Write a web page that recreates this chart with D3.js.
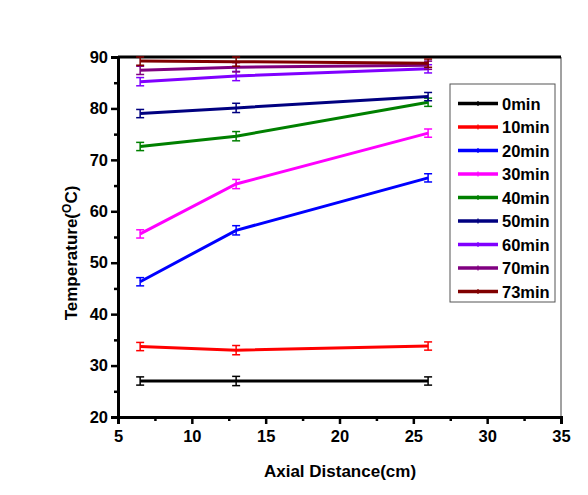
<!DOCTYPE html>
<html><head><meta charset="utf-8">
<script src="https://cdn.jsdelivr.net/npm/d3@7"></script>
<style>body{margin:0;background:#fff}svg{display:block}text{font-family:Arial,"Liberation Sans",sans-serif;font-weight:bold}</style>
</head><body><div id="c"></div>
<script>
const distances = [6.5, 13, 26];
const seriesNames = ["0min","10min","20min","30min","40min","50min","60min","70min","73min"];
const colors = ["#000000","#ff0000","#0000ff","#ff00ff","#008000","#000080","#8000ff","#800080","#800000"];
const t0 = [27.0, 27.0, 27.0];
const t10 = [33.7, 33.0, 33.8];
const t20 = [46.3, 56.3, 66.5];
const t30 = [55.6, 65.3, 75.2];
const t40 = [72.6, 74.6, 81.2];
const t50 = [79.0, 80.1, 82.3];
const t60 = [85.2, 86.3, 87.7];
const t70 = [87.4, 88.0, 88.4];
const t73 = [89.2, 89.1, 88.8];
const errors = [0.8, 0.9, 0.8];
const values = [t0,t10,t20,t30,t40,t50,t60,t70,t73];
const xTicks = [5,10,15,20,25,30,35];
const yTicks = [20,30,40,50,60,70,80,90];

const W=588,H=495;
const svg=d3.select("#c").append("svg").attr("width",W).attr("height",H);
const x=d3.scaleLinear().domain([5,35]).range([118,561]);
const y=d3.scaleLinear().domain([20,90]).range([417,57]);

// frame
svg.append("line").attr("x1",x(35)).attr("x2",x(35)).attr("y1",y(90)).attr("y2",y(20)).attr("stroke","#444").attr("stroke-width",1);
svg.append("line").attr("x1",x(5)).attr("x2",x(35)).attr("y1",y(90)).attr("y2",y(90)).attr("stroke","#000").attr("stroke-width",3);

// series
const line=d3.line().x((d,i)=>x(distances[i])).y(d=>y(d));
values.forEach((vals,k)=>{
  const g=svg.append("g");
  g.append("path").attr("d",line(vals)).attr("fill","none").attr("stroke",colors[k]).attr("stroke-width",3);
  vals.forEach((v,i)=>{
    const cx=x(distances[i]), e=errors[i];
    g.append("line").attr("x1",cx).attr("x2",cx).attr("y1",y(v-e)).attr("y2",y(v+e)).attr("stroke",colors[k]).attr("stroke-width",1.5);
    [v-e,v+e].forEach(b=>g.append("line").attr("x1",cx-4).attr("x2",cx+4).attr("y1",y(b)).attr("y2",y(b)).attr("stroke",colors[k]).attr("stroke-width",1.5));
  });
});

// axes
const xAxis=svg.append("g").attr("transform",`translate(0,${y(20)})`);
xAxis.call(d3.axisBottom(x).tickValues(xTicks).tickSize(7).tickPadding(6).tickFormat(d3.format("d")));
xAxis.append("g").call(d3.axisBottom(x).tickValues([7.5,12.5,17.5,22.5,27.5,32.5]).tickSize(4).tickFormat(""));
const yAxis=svg.append("g").attr("transform",`translate(${x(5)},0)`);
yAxis.call(d3.axisLeft(y).tickValues(yTicks).tickSize(7).tickPadding(3).tickFormat(d3.format("d")));
yAxis.append("g").call(d3.axisLeft(y).tickValues([25,35,45,55,65,75,85]).tickSize(4).tickFormat(""));
svg.selectAll(".domain").attr("stroke","#000").attr("stroke-width",3);
svg.selectAll(".tick line").attr("stroke","#000").attr("stroke-width",2.5);
svg.selectAll(".tick text").attr("font-size",16.5).attr("fill","#000").style("font-family","Arial,'Liberation Sans',sans-serif").style("font-weight","bold");

// labels
svg.append("text").attr("x",340).attr("y",477).attr("text-anchor","middle").attr("font-size",17).text("Axial Distance(cm)");
const yl=svg.append("text").attr("transform","translate(77,253) rotate(-90)").attr("text-anchor","middle").attr("font-size",17);
yl.append("tspan").text("Temperature(");
yl.append("tspan").attr("dy",-6).attr("font-size",12).text("O");
yl.append("tspan").attr("dy",6).text("C)");

// legend
const lg=svg.append("g");
lg.append("rect").attr("x",450).attr("y",84).attr("width",105).attr("height",218).attr("fill","#fff").attr("stroke","#555").attr("stroke-width",1);
seriesNames.forEach((n,k)=>{
  const ly=103.5+k*23.5;
  lg.append("line").attr("x1",458).attr("x2",498).attr("y1",ly).attr("y2",ly).attr("stroke",colors[k]).attr("stroke-width",3.5);
  lg.append("line").attr("x1",478).attr("x2",478).attr("y1",ly-2.5).attr("y2",ly+2.5).attr("stroke",colors[k]).attr("stroke-width",1.2);
  lg.append("text").attr("x",502).attr("y",ly+6).attr("font-size",16.5).text(n);
});
</script></body></html>
